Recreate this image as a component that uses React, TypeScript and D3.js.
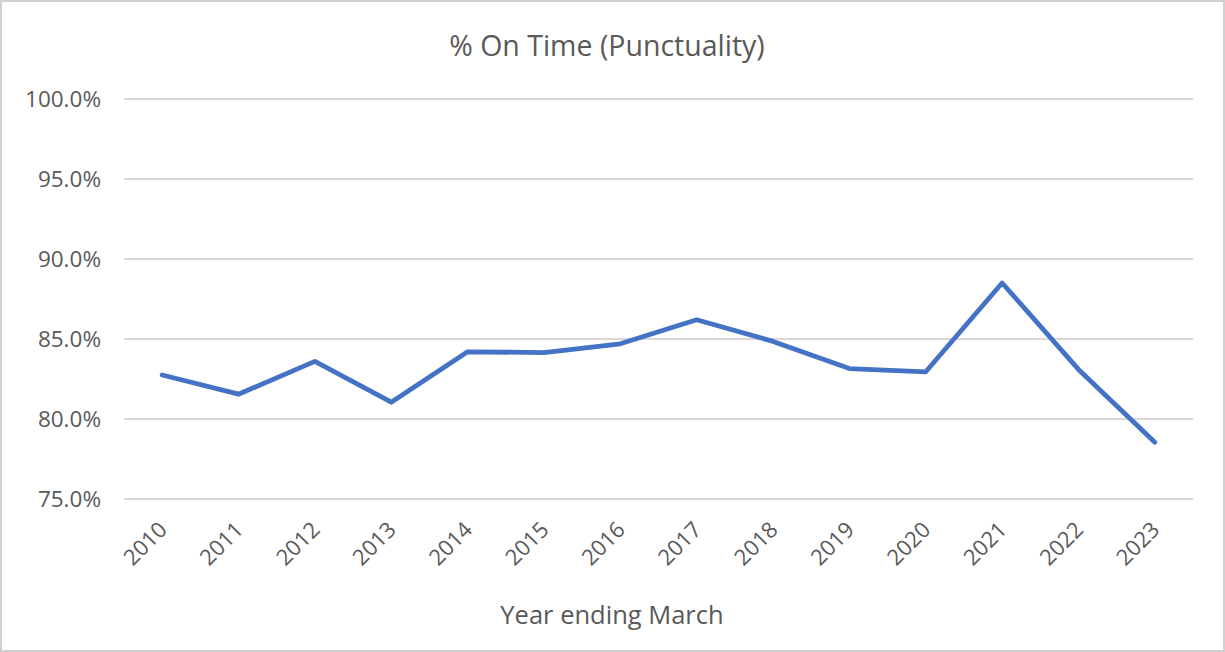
import React from "react";
import * as d3 from "d3";

const years = ["2010","2011","2012","2013","2014","2015","2016","2017","2018","2019","2020","2021","2022","2023"];
const punctuality = [82.75, 81.55, 83.6, 81.05, 84.2, 84.15, 84.7, 86.2, 84.85, 83.15, 82.95, 88.5, 83.1, 78.55];
const yTicks = [75, 80, 85, 90, 95, 100];

const W = 1225, H = 652;
const left = 124, right = 1193, top = 99, bottom = 499;

export default function App() {
  const x = d3.scaleBand<string>().domain(years).range([left, right]);
  const y = d3.scaleLinear().domain([75, 100]).range([bottom, top]);
  const line = d3.line<number>()
    .x((_, i) => (x(years[i]) as number) + x.bandwidth() / 2)
    .y((d) => y(d));
  const font = "'Open Sans', 'Liberation Sans', sans-serif";
  return (
    <div style={{ position: "fixed", left: 0, top: 0 }}>
      <svg width={W} height={H} style={{ display: "block", fontFamily: font }}>
        <rect x={1} y={1} width={W - 2} height={H - 2} fill="#fff" stroke="#d0d0d0" strokeWidth={2} />
        <text x={607} y={56} textAnchor="middle" fontSize={28.5} fill="#595959">% On Time (Punctuality)</text>
        {yTicks.map((t) => (
          <g key={t}>
            <line x1={left} x2={right} y1={y(t)} y2={y(t)} stroke="#dcd6d6" strokeWidth={2} />
            <text x={101} y={y(t) + 8} textAnchor="end" fontSize={22.5} fill="#595959">{t.toFixed(1)}%</text>
          </g>
        ))}
        {years.map((yr) => {
          const cx = (x(yr) as number) + x.bandwidth() / 2;
          return (
            <text key={yr} transform={`translate(${cx + 2},${bottom + 28}) rotate(-45)`} textAnchor="end" dominantBaseline="middle" fontSize={22} fill="#595959">{yr}</text>
          );
        })}
        <path d={line(punctuality) || ""} fill="none" stroke="#4472C4" strokeWidth={4.8} strokeLinejoin="round" strokeLinecap="round" />
        <text x={612} y={624} textAnchor="middle" fontSize={25.5} fill="#595959">Year ending March</text>
      </svg>
    </div>
  );
}
